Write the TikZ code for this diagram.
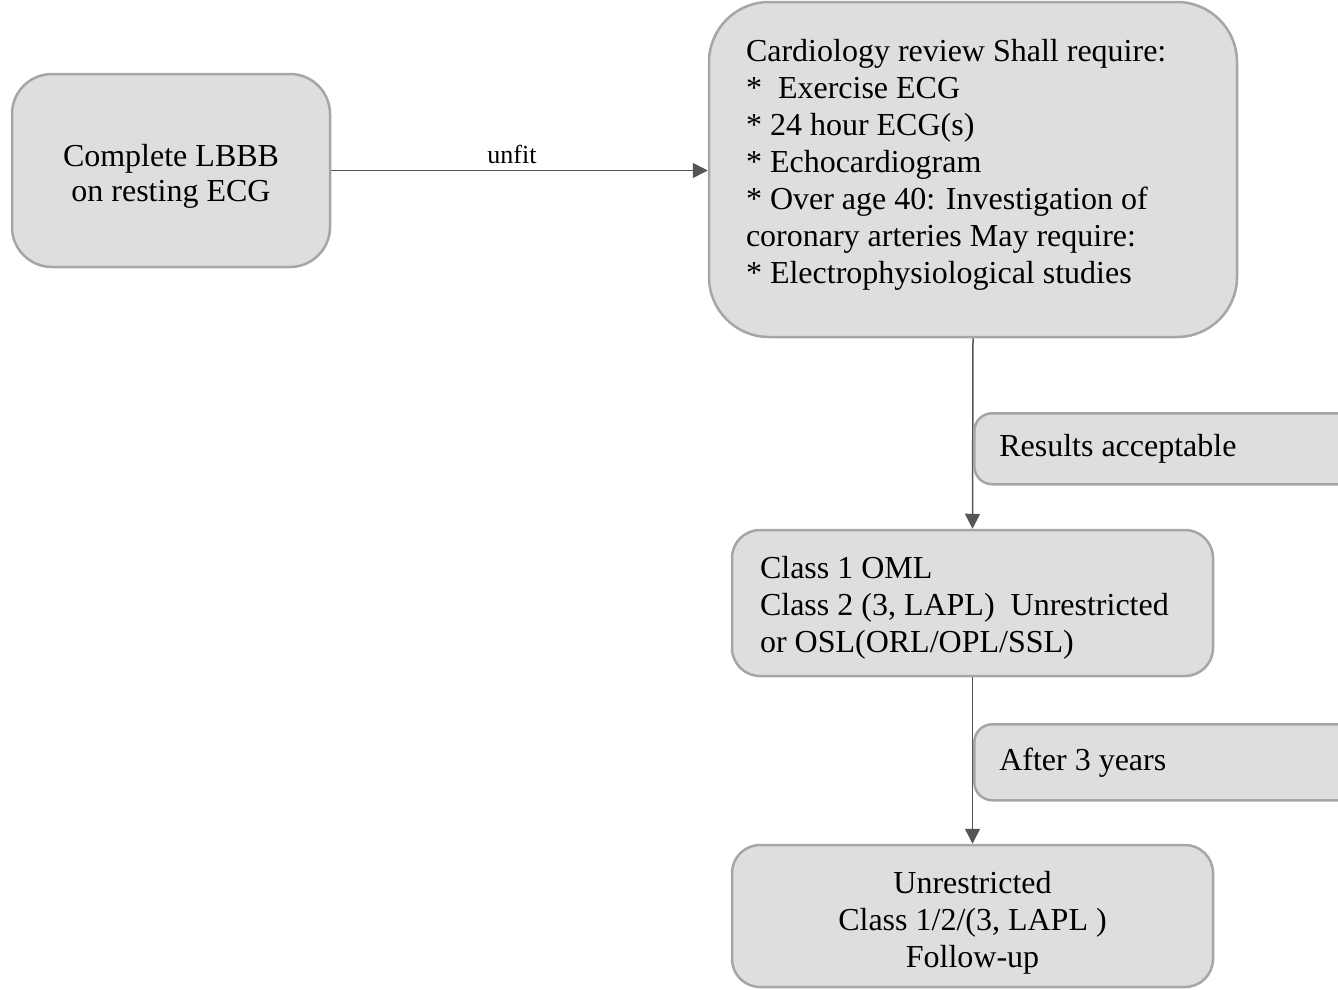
\documentclass[tikz,border=0pt]{standalone}
\usepackage{fontspec}
\setmainfont{Liberation Serif}
\usetikzlibrary{arrows.meta}
\definecolor{boxfill}{HTML}{DEDEDE}
\definecolor{boxline}{HTML}{A6A6A6}
\definecolor{linkgray}{HTML}{555555}

\begin{document}
\begin{tikzpicture}[x=1pt,y=-1pt,
	box/.style={draw=boxline,fill=boxfill,line width=2.5pt,inner sep=0pt,
		font=\fontsize{32}{37}\selectfont},
	link/.style={draw=linkgray,line width=1.5pt,->,>={Triangle[length=15pt,width=15pt,linkgray]}}]
	
	% Frame of the page
	\useasboundingbox (0,0) rectangle (1338,989);
	\clip (0,0) rectangle (1338,989);
	
	% Main boxes
	\node[box,minimum width=318pt,minimum height=193pt,rounded corners=40pt,align=center,
		font=\fontsize{32}{35}\selectfont,text height=61pt,text depth=0pt]
		(lbbb) at (171,170.5) {Complete LBBB\\on resting ECG};
	\node[box,minimum width=528pt,minimum height=335pt,rounded corners=60pt,
		inner xsep=37pt,text width=454pt,align=flush left,text height=12pt]
		(review) at (973,169.5) {Cardiology review Shall require:\\
			{*}\ \ Exercise ECG\\
			{*} 24 hour ECG(s)\\
			{*} Echocardiogram\\
			{*} Over age 40: Investigation of\\
			coronary arteries May require:\\
			{*} Electrophysiological studies};
	\node[box,minimum width=481pt,minimum height=146pt,rounded corners=28pt,
		inner xsep=28pt,text width=425pt,align=flush left,text height=32pt]
		(classa) at (972.5,603) {Class 1 OML\\
			Class 2 (3, LAPL)\ \ Unrestricted\\
			or OSL(ORL/OPL/SSL)};
	\node[box,minimum width=481pt,minimum height=142pt,rounded corners=28pt,align=center,
		text height=102pt,text depth=0pt]
		(unrestr) at (972.5,916) {Unrestricted\\Class 1/2/(3, LAPL )\\Follow-up};
	
	% Connectors
	\draw[link] (lbbb.east) -- (lbbb.east -| review.west)
		node[pos=0.48,above=3pt,font=\fontsize{26}{30}\selectfont,text=black] {unfit};
	\draw[link] (review.south) -- (classa.north);
	\draw[link] (classa.south) -- (unrestr.north);
	
	% Side notes on the vertical links
	\node[box,anchor=north west,minimum width=440pt,minimum height=71pt,rounded corners=18pt,
		inner xsep=25pt,text width=390pt,align=flush left]
		(okres) at (973,412) {Results acceptable};
	\node[box,anchor=north west,minimum width=440pt,minimum height=76pt,rounded corners=18pt,
		inner xsep=25pt,text width=390pt,align=flush left]
		(threey) at (973,723) {After 3 years};
	
\end{tikzpicture}
\end{document}
